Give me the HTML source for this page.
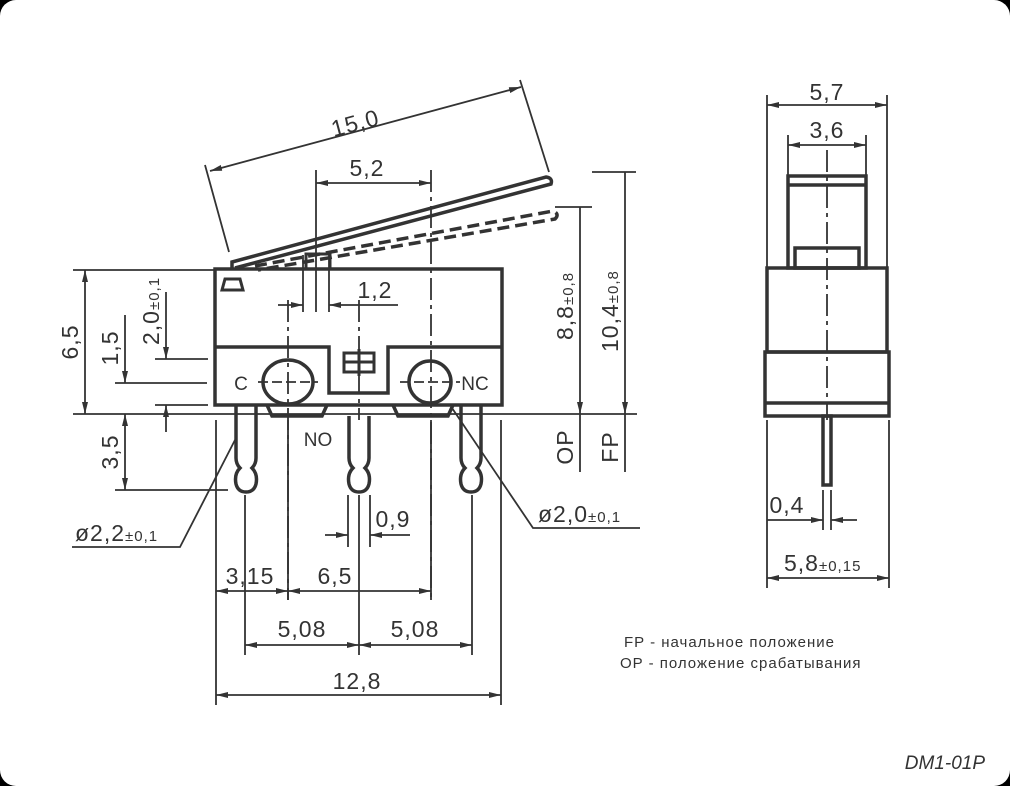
<!DOCTYPE html>
<html><head><meta charset="utf-8"><style>
html,body{margin:0;padding:0;background:#000;width:1010px;height:786px;overflow:hidden}
#w{position:absolute;left:0;top:0;width:1010px;height:786px;background:#fff;border-radius:16px}
svg{position:absolute;left:0;top:0}
text{font-family:"Liberation Sans",sans-serif;fill:#333}
</style></head><body><div id="w">
<svg width="1010" height="786" viewBox="0 0 1010 786">
<defs>
<marker id="a" viewBox="0 0 12 6" refX="12" refY="3" markerWidth="12" markerHeight="6" orient="auto-start-reverse" markerUnits="userSpaceOnUse"><path d="M0,0 L12,3 L0,6 z" fill="#333"/></marker>
</defs>
<g stroke="#333" fill="none">
<g stroke-width="3.5">
<rect x="215" y="269" width="287" height="136"/>
<path d="M215,347 H329 V393 H388 V347 H502"/>
<path d="M267,405 L272,416 H322 L327,405 M393,405 L398,416 H448 L453,405"/>
<ellipse cx="288" cy="382" rx="25" ry="22"/>
<circle cx="430" cy="382" r="21"/>
<path d="M222,290 L225,279 H240 L243,290 Z" stroke-width="3"/>
<rect x="344" y="353" width="30" height="19" stroke-width="3"/>
<path d="M344,362 H374 M359,349 V376" stroke-width="3"/>
<path d="M236,405 V458 Q236,464 240,468 Q234,474 236,484 Q238,492 246,492 Q254,492 256,484 Q258,474 252,468 Q256,464 256,458 V405"/>
<path d="M349,416 V458 Q349,464 353,468 Q347,474 349,484 Q351,492 359,492 Q367,492 369,484 Q371,474 365,468 Q369,464 369,458 V416"/>
<path d="M461,405 V458 Q461,464 465,468 Q459,474 461,484 Q463,492 471,492 Q479,492 481,484 Q483,474 477,468 Q481,464 481,458 V405"/>
<path d="M232,268 L232,262 L546,177 Q553,178 551,184 L235,268"/>
<path d="M306,268 V254 H330 V268" stroke-width="3"/>
</g>
<path d="M255,266 L553,211 Q560,214 555,219 L258,270" stroke-width="3.5" stroke-dasharray="12,6"/>
<g stroke-width="3.5">
<rect x="788" y="176" width="78" height="92"/>
<path d="M788,185 H866"/>
<rect x="795" y="248" width="64" height="20"/>
<rect x="767" y="268" width="120" height="84"/>
<rect x="765" y="352" width="124" height="64"/>
<path d="M765,403 H889"/>
<rect x="823" y="416" width="8" height="69"/>
</g>
<g stroke-width="1.8" stroke-dasharray="22,5,4,5">
<path d="M288,300 V600"/><path d="M431,170 V600"/><path d="M359,300 V420"/>
<path d="M827,150 V420"/>
</g>
<g stroke-width="1.8">
<path d="M258,382 H318 M400,382 H460" stroke-dasharray="10,4"/>
<path d="M205,165 L229,252 M520,80 L549,172"/>
<path d="M210,171 L521,87" marker-start="url(#a)" marker-end="url(#a)"/>
<path d="M316,170 V312 M303,255 V312 M329,255 V312"/>
<path d="M316,183 H431" marker-start="url(#a)" marker-end="url(#a)"/>
<path d="M278,305 H303" marker-end="url(#a)"/><path d="M398,305 H329" marker-end="url(#a)"/>
<path d="M73,270 H215 M73,414 H637 M115,383 H207 M115,490 H228 M155,359 H208 M155,405 H208"/>
<path d="M85,270 V414" marker-start="url(#a)" marker-end="url(#a)"/>
<path d="M125,315 V383" marker-end="url(#a)"/>
<path d="M125,414 V490" marker-start="url(#a)" marker-end="url(#a)"/>
<path d="M166,292 V359" marker-end="url(#a)"/>
<path d="M166,432 V405" marker-end="url(#a)"/>
<path d="M235,440 L180,547 H72"/>
<path d="M555,207 H592 M592,172 H636"/>
<path d="M580,207 V414" marker-end="url(#a)"/>
<path d="M580,414 V472"/>
<path d="M625,172 V414" marker-end="url(#a)"/>
<path d="M625,414 V472"/>
<path d="M452,408 L533,528 H640"/>
<path d="M216,420 V705 M501,420 V705 M245,495 V655 M359,495 V655 M472,495 V655 M288,420 V600 M431,420 V600 M348,495 V547 M370,495 V547"/>
<path d="M216,591 H288" marker-start="url(#a)" marker-end="url(#a)"/>
<path d="M288,591 H431" marker-start="url(#a)" marker-end="url(#a)"/>
<path d="M245,645 H359" marker-start="url(#a)" marker-end="url(#a)"/>
<path d="M359,645 H472" marker-start="url(#a)" marker-end="url(#a)"/>
<path d="M216,695 H501" marker-start="url(#a)" marker-end="url(#a)"/>
<path d="M325,535 H348" marker-end="url(#a)"/><path d="M410,535 H370" marker-end="url(#a)"/>
<path d="M767,95 V268 M887,95 V268 M788,135 V176 M866,135 V176 M767,420 V588 M889,420 V588 M823,490 V530 M831,490 V530"/>
<path d="M767,105 H887" marker-start="url(#a)" marker-end="url(#a)"/>
<path d="M788,145 H866" marker-start="url(#a)" marker-end="url(#a)"/>
<path d="M767,520 H823" marker-end="url(#a)"/><path d="M857,520 H831" marker-end="url(#a)"/>
<path d="M767,578 H889" marker-start="url(#a)" marker-end="url(#a)"/>
</g>
</g>
<g font-size="23" letter-spacing="1">
<text x="355" y="131" text-anchor="middle" transform="rotate(-15 355 122)">15,0</text>
<text x="367" y="176" text-anchor="middle">5,2</text>
<text x="375" y="298" text-anchor="middle">1,2</text>
<text transform="translate(78,342) rotate(-90)" text-anchor="middle">6,5</text>
<text transform="translate(118,348) rotate(-90)" text-anchor="middle">1,5</text>
<text transform="translate(118,452) rotate(-90)" text-anchor="middle">3,5</text>
<text transform="translate(159,345) rotate(-90)">2,0<tspan font-size="15">±0,1</tspan></text>
<text transform="translate(573,340) rotate(-90)">8,8<tspan font-size="15">±0,8</tspan></text>
<text transform="translate(618,352) rotate(-90)">10,4<tspan font-size="15">±0,8</tspan></text>
<text transform="translate(573,447) rotate(-90)" text-anchor="middle">OP</text>
<text transform="translate(618,447) rotate(-90)" text-anchor="middle">FP</text>
<text x="75" y="541">ø2,2<tspan font-size="15">±0,1</tspan></text>
<text x="538" y="522">ø2,0<tspan font-size="15">±0,1</tspan></text>
<text x="393" y="527" text-anchor="middle">0,9</text>
<text x="250" y="584" text-anchor="middle">3,15</text>
<text x="335" y="584" text-anchor="middle">6,5</text>
<text x="302" y="637" text-anchor="middle">5,08</text>
<text x="415" y="637" text-anchor="middle">5,08</text>
<text x="357" y="689" text-anchor="middle">12,8</text>
<text x="827" y="100" text-anchor="middle">5,7</text>
<text x="827" y="138" text-anchor="middle">3,6</text>
<text x="787" y="513" text-anchor="middle">0,4</text>
<text x="784" y="571">5,8<tspan font-size="15">±0,15</tspan></text>
</g>
<g font-size="19">
<text x="241" y="390" text-anchor="middle">C</text>
<text x="475" y="390" text-anchor="middle">NC</text>
<text x="318" y="446" text-anchor="middle">NO</text>
</g>
<g font-size="15" fill="#444" letter-spacing="1">
<text x="624" y="647">FP - начальное положение</text>
<text x="620" y="668">OP - положение срабатывания</text>
</g>
<text x="985" y="769" font-size="19" font-style="italic" text-anchor="end" fill="#111">DM1-01P</text>
</svg></div></body></html>
